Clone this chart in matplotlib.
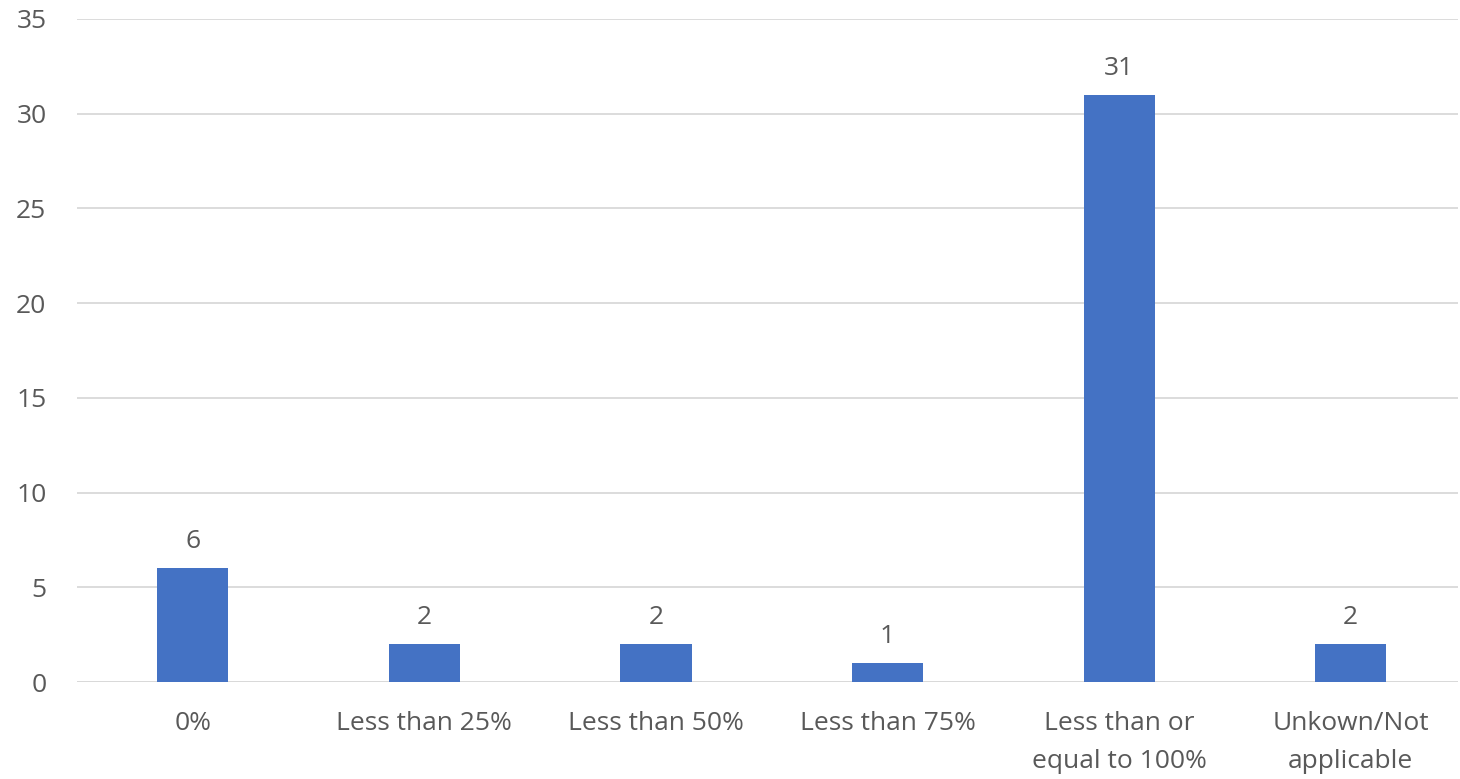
import matplotlib
matplotlib.use("Agg")
import matplotlib.pyplot as plt

categories = ["0%", "Less than 25%", "Less than 50%", "Less than 75%",
              "Less than or\nequal to 100%", "Unkown/Not\napplicable"]
values = [6, 2, 2, 1, 31, 2]
y_ticks = [0, 5, 10, 15, 20, 25, 30, 35]

BAR_COLOR = "#4472C4"
TEXT_COLOR = "#595959"
GRID_COLOR = "#D9D9D9"
FS = 19

plt.rcParams["font.family"] = ["Open Sans", "DejaVu Sans"]

fig = plt.figure(figsize=(14.6, 7.79), dpi=100)
W, H = 1460, 779
ax = fig.add_axes([77 / W, (H - 682) / H, (1458 - 77) / W, (682 - 19) / H])

x = range(len(categories))
bars = ax.bar(x, values, width=0.307, color=BAR_COLOR, zorder=3)

for b, v in zip(bars, values):
    ax.annotate(str(v), (b.get_x() + b.get_width() / 2, v),
                xytext=(0, 10), textcoords="offset points",
                ha="center", va="bottom", fontsize=FS, color=TEXT_COLOR)

ax.set_xlim(-0.5, 5.463)
ax.set_ylim(0, 35)
ax.set_yticks(y_ticks)
ax.set_xticks(list(x))
ax.set_xticklabels(categories, linespacing=1.7)
ax.tick_params(axis="both", length=0, labelsize=FS, colors=TEXT_COLOR)
ax.tick_params(axis="x", pad=21)
ax.tick_params(axis="y", pad=22)

ax.grid(axis="y", color=GRID_COLOR, linewidth=1.3, zorder=0)
for s in ax.spines.values():
    s.set_visible(False)
ax.axhline(0, color=GRID_COLOR, linewidth=1.3, zorder=2)

fig.savefig("out.png", dpi=100)
